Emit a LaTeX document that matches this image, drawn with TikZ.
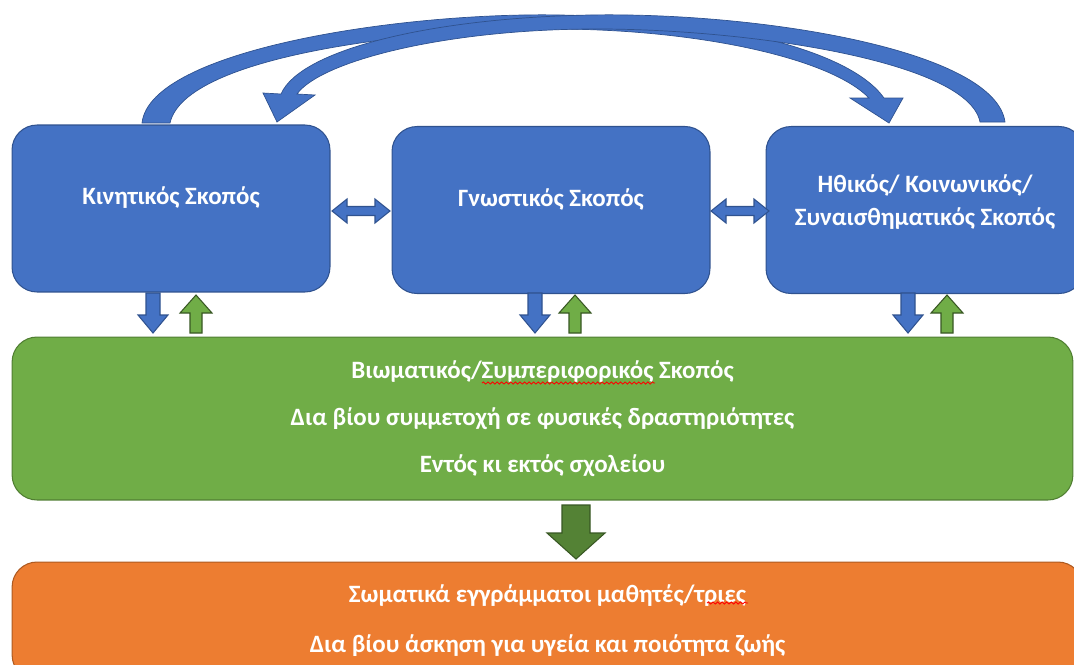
\documentclass[tikz,border=0pt]{standalone}
\usepackage{fontspec}
\setmainfont{Carlito}
\usetikzlibrary{positioning,decorations.pathmorphing}
\definecolor{boxblue}{RGB}{68,114,196}
\definecolor{blueedge}{RGB}{47,82,143}
\definecolor{boxgreen}{RGB}{112,173,71}
\definecolor{greenedge}{RGB}{80,126,50}
\definecolor{boxorange}{RGB}{237,125,49}
\definecolor{orangeedge}{RGB}{174,90,33}
\definecolor{darkgreen}{RGB}{84,130,53}
\definecolor{darkedge}{RGB}{56,87,35}
\newcommand{\lowstrut}[1]{\rule[-#1]{0pt}{0pt}}
\begin{document}
\begin{tikzpicture}[x=0.02cm, y=-0.02cm,
    aimbox/.style={rectangle, rounded corners=0.5cm, draw=blueedge, line width=0.6pt,
        fill=boxblue, text=white, minimum width=6.36cm, minimum height=3.34cm,
        font=\bfseries\fontsize{14.2}{18.8}\selectfont, align=center},
    arcfill/.style={fill=boxblue, draw=blueedge, line width=0.4pt},
    dnarrow/.style={fill=boxblue, draw=blueedge, line width=0.6pt},
    uparrow/.style={fill=boxgreen, draw=darkedge, line width=0.6pt},
    spell/.style={draw=red, line width=0.5pt,
        decorate, decoration={snake, amplitude=0.6pt, segment length=2.6pt}}]
\useasboundingbox (0,0) rectangle (1074,664);
\clip (0,0) rectangle (1074,664);
% the three aims
\node[aimbox] (kin) at (171,208.5) {Κινητικός Σκοπός\lowstrut{14.5pt}};
\node[aimbox] (gno) at (551,210) {Γνωστικός Σκοπός\lowstrut{14.5pt}};
\node[aimbox] (ith) at (925,210) {Ηθικός/ Κοινωνικός/\\Συναισθηματικός Σκοπός\lowstrut{11pt}};
% experience box and outcome box
\node[rectangle, rounded corners=0.5cm, draw=greenedge, line width=0.6pt, fill=boxgreen,
    text=white, minimum width=21.22cm, minimum height=3.26cm, align=center,
    font=\bfseries\fontsize{14.2}{26.7}\selectfont] (vio) at (542.5,418.5)
    {Βιωματικός/Συμπεριφορικός Σκοπός\\Δια βίου συμμετοχή σε φυσικές δραστηριότητες\\Εντός κι εκτός σχολείου};
\node[rectangle, rounded corners=0.5cm, draw=orangeedge, line width=0.6pt, fill=boxorange,
    text=white, minimum width=21.42cm, minimum height=2.36cm, align=center,
    font=\bfseries\fontsize{14.2}{28.4}\selectfont] (som) at (547.5,621)
    {Σωματικά εγγράμματοι μαθητές/τριες\\Δια βίου άσκηση για υγεία και ποιότητα ζωής};
\draw[spell] (482,383) -- (655,383);
\draw[spell] (707,603) -- (748,603);
% curved arrows over the top
\filldraw[arcfill] (142,123) .. controls (150,50) and (400,12) .. (560,15)
    .. controls (720,18) and (850,50) .. (884,98) -- (903,98) -- (889,123) -- (850,98) -- (869,98)
    .. controls (830,58) and (700,30) .. (560,29) .. controls (420,28) and (185,55) .. (170,123) -- cycle;
\filldraw[arcfill] (1005,122) .. controls (995,50) and (760,12) .. (590,15)
    .. controls (430,18) and (300,50) .. (281,94) -- (263,93) -- (277,122) -- (315,95) -- (297,94)
    .. controls (320,62) and (440,30) .. (590,29) .. controls (740,28) and (968,60) .. (980,122) -- cycle;
% two-way arrows between the aims
\foreach \a in {332,711}
    \filldraw[dnarrow] (\a,211) -- (\a+15,199) -- (\a+15,206.5) -- (\a+43,206.5) -- (\a+43,199)
        -- (\a+58,211) -- (\a+43,223) -- (\a+43,215.5) -- (\a+15,215.5) -- (\a+15,223) -- cycle;
% down and up arrows
\foreach \bx/\gx in {153/196,535/575,908/947}{
    \filldraw[dnarrow] (\bx-7,293) -- (\bx+7,293) -- (\bx+7,315) -- (\bx+15,315) -- (\bx,333)
        -- (\bx-15,315) -- (\bx-7,315) -- cycle;
    \filldraw[uparrow] (\gx-6,333) -- (\gx+6,333) -- (\gx+6,313) -- (\gx+16,313) -- (\gx,295)
        -- (\gx-16,313) -- (\gx-6,313) -- cycle;
}
\filldraw[fill=darkgreen, draw=darkedge, line width=0.6pt] (562,505) -- (590,505) -- (590,533)
    -- (605,533) -- (576,559) -- (547,533) -- (562,533) -- cycle;
\end{tikzpicture}
\end{document}
